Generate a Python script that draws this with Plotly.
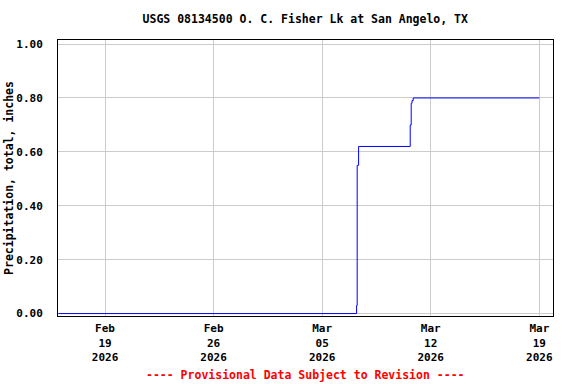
import plotly.graph_objects as go

# Cumulative precipitation (inches), step data
times = [
    "2026-02-16 00:00", "2026-03-07 05:15", "2026-03-07 06:10", "2026-03-07 08:20",
    "2026-03-10 16:15", "2026-03-10 17:45", "2026-03-10 19:00", "2026-03-10 20:50",
    "2026-03-19 00:00",
]
values = [0.00, 0.03, 0.55, 0.62, 0.70, 0.78, 0.79, 0.80, 0.80]

tick_dates = ["2026-02-19", "2026-02-26", "2026-03-05", "2026-03-12", "2026-03-19"]
tick_text = ["Feb<br>19<br>2026", "Feb<br>26<br>2026", "Mar<br>05<br>2026",
             "Mar<br>12<br>2026", "Mar<br>19<br>2026"]
y_ticks = [0.0, 0.2, 0.4, 0.6, 0.8, 1.0]
y_text = ["0.00", "0.20", "0.40", "0.60", "0.80", "1.00"]

FONT = "DejaVu Sans Mono"

fig = go.Figure()
fig.add_trace(go.Scatter(
    x=times, y=values, mode="lines", line_shape="hv",
    line=dict(color="#0000ff", width=1), hoverinfo="skip", showlegend=False,
))

fig.update_layout(
    width=576, height=384,
    margin=dict(l=58, r=23, t=40, b=68, autoexpand=False),
    paper_bgcolor="white", plot_bgcolor="white",
    font=dict(family=FONT, size=11, color="black", weight="bold"),
    title=dict(text="USGS 08134500 O. C. Fisher Lk at San Angelo, TX",
               x=0.53, xanchor="center", y=0.95, yanchor="middle",
               font=dict(family=FONT, size=11.5, color="black", weight="bold")),
    xaxis=dict(
        range=["2026-02-15 23:15", "2026-03-19 21:10"],
        tickvals=tick_dates, ticktext=tick_text, tickmode="array",
        showgrid=True, gridcolor="#cccccc", gridwidth=1,
        showline=True, linecolor="black", linewidth=1, mirror=True,
        ticks="", zeroline=False, ticklabelstandoff=2, automargin=False,
    ),
    yaxis=dict(
        range=[-0.009, 1.015],
        tickvals=y_ticks, ticktext=y_text, tickmode="array",
        showgrid=True, gridcolor="#cccccc", gridwidth=1,
        showline=True, linecolor="black", linewidth=1, mirror=True,
        ticks="", zeroline=False, ticklabelstandoff=12, automargin=False,
        title=dict(text="Precipitation, total, inches", standoff=0,
                   font=dict(family=FONT, size=11.5, color="black", weight="bold")),
    ),
    annotations=[dict(
        text="---- Provisional Data Subject to Revision ----",
        xref="paper", yref="paper", x=0.5, y=-0.214, xanchor="center", yanchor="middle",
        showarrow=False,
        font=dict(family=FONT, size=11.5, color="#ff0000", weight="bold"),
    )],
)

fig.write_html("out.html", post_script="document.body.style.margin='0';",
               config={"displayModeBar": False})
